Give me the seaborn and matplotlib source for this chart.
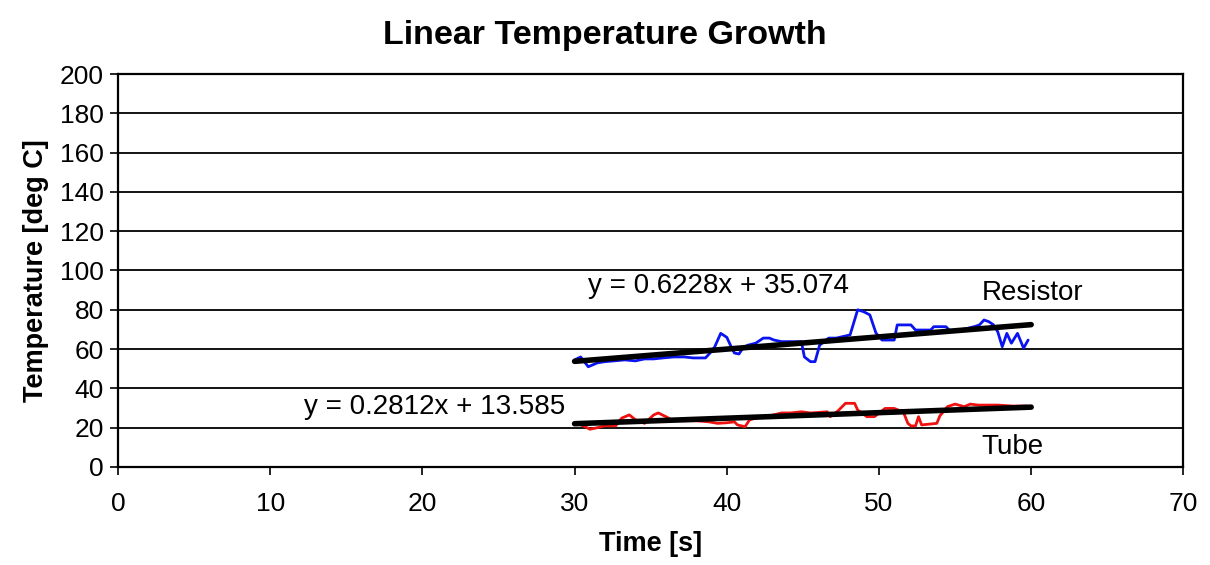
import matplotlib
matplotlib.use("Agg")
import matplotlib.pyplot as plt
import seaborn as sns
import pandas as pd

# Measured temperatures
resistor_time = [30.0, 30.4, 30.9, 31.5, 32.0, 32.6, 33.3, 34.0, 34.6, 35.2, 35.8, 36.5,
                 37.2, 37.8, 38.6, 38.9, 39.2, 39.6, 40.0, 40.3, 40.5, 40.8, 41.1, 41.4,
                 41.9, 42.4, 42.8, 43.1, 43.6, 44.2, 44.9, 45.1, 45.5, 45.8, 46.1, 46.7,
                 47.2, 47.7, 48.1, 48.6, 49.0, 49.4, 49.8, 50.2, 51.0, 51.2, 52.1, 52.4,
                 53.4, 53.6, 54.4, 54.7, 55.2, 55.8, 56.3, 56.6, 56.9, 57.2, 57.5, 57.8,
                 58.1, 58.4, 58.7, 59.1, 59.5, 59.8]
resistor_temp = [54.5, 56.0, 51.0, 53.0, 53.6, 54.0, 54.5, 54.0, 55.0, 55.0, 55.5, 56.0,
                 56.0, 55.5, 55.5, 58.0, 61.0, 68.0, 66.0, 61.0, 58.0, 57.5, 61.0, 62.0,
                 63.0, 65.6, 65.6, 64.6, 63.8, 63.8, 63.8, 56.0, 53.6, 53.6, 62.0, 65.6,
                 65.6, 66.5, 67.2, 80.0, 79.0, 77.4, 68.2, 64.6, 64.6, 72.3, 72.3, 69.7,
                 69.7, 71.4, 71.4, 69.0, 69.5, 70.5, 71.5, 72.3, 74.8, 74.0, 72.5, 68.9,
                 61.2, 68.0, 63.0, 68.0, 60.5, 64.6]

tube_time = [30.2, 30.7, 31.0, 31.5, 32.0, 32.7, 33.1, 33.6, 34.0, 34.6, 35.2, 35.5,
             36.0, 36.5, 37.2, 38.0, 38.8, 39.4, 40.0, 40.5, 40.7, 41.2, 41.5, 42.0,
             42.8, 43.6, 44.2, 44.9, 45.5, 46.1, 46.6, 46.8, 47.3, 47.8, 48.4, 48.6,
             49.2, 49.7, 50.4, 51.0, 51.6, 51.9, 52.1, 52.4, 52.6, 52.8, 53.8, 54.0,
             54.5, 55.0, 55.6, 56.0, 56.5, 57.8, 58.8, 59.7]
tube_temp = [22.0, 20.5, 19.2, 20.0, 21.0, 20.9, 24.9, 26.5, 24.0, 22.2, 26.5, 27.5,
             25.6, 23.5, 23.5, 23.5, 23.0, 22.2, 22.5, 23.0, 21.4, 20.5, 24.0, 25.0,
             26.0, 27.5, 27.5, 28.1, 27.5, 27.8, 28.1, 25.6, 28.5, 32.4, 32.4, 29.0,
             25.6, 25.6, 29.8, 29.8, 28.0, 22.2, 20.9, 20.9, 25.6, 21.4, 22.2, 26.0,
             30.7, 32.0, 30.7, 32.0, 31.5, 31.5, 31.0, 31.0]

# Linear fits
fit_range = [30, 60]
resistor_fit = (0.6228, 35.074)
tube_fit = (0.2812, 13.585)

x_ticks = [0, 10, 20, 30, 40, 50, 60, 70]
y_ticks = [0, 20, 40, 60, 80, 100, 120, 140, 160, 180, 200]

sns.set_style("white")
plt.rcParams["font.family"] = ["Liberation Sans", "DejaVu Sans"]
plt.rcParams["text.color"] = "black"
plt.rcParams["axes.labelcolor"] = "black"

fig = plt.figure(figsize=(12.1, 5.65), dpi=100)
ax = fig.add_axes([0.0975, 0.1735, 0.8805, 0.6955])

for y in y_ticks[1:]:
    ax.axhline(y, color="black", lw=1.3, zorder=1)

res_df = pd.DataFrame({"t": resistor_time, "T": resistor_temp})
tube_df = pd.DataFrame({"t": tube_time, "T": tube_temp})
sns.lineplot(data=res_df, x="t", y="T", ax=ax, color="#0a14f0", lw=2.0,
             estimator=None, sort=False, zorder=3)
sns.lineplot(data=tube_df, x="t", y="T", ax=ax, color="#f01010", lw=2.0,
             estimator=None, sort=False, zorder=3)

for slope, icpt in (resistor_fit, tube_fit):
    fy = [slope * x + icpt for x in fit_range]
    ax.plot(fit_range, fy, color="black", lw=4.0, solid_capstyle="round", zorder=4)

eq_size = 20
ax.text(30.85, 92, f"y = {resistor_fit[0]}x + {resistor_fit[1]:.3f}",
        fontsize=eq_size, va="center", ha="left")
ax.text(56.75, 88.5, "Resistor", fontsize=eq_size, va="center", ha="left")
ax.text(12.25, 30.5, f"y = {tube_fit[0]}x + {tube_fit[1]:.3f}",
        fontsize=eq_size, va="center", ha="left")
ax.text(56.75, 10.2, "Tube", fontsize=eq_size, va="center", ha="left")

ax.set_xlim(0, 70)
ax.set_ylim(0, 200)
ax.set_xticks(x_ticks)
ax.set_yticks(y_ticks)
ax.tick_params(axis="both", labelsize=19, colors="black", direction="out",
               length=6, width=1.2, left=True, bottom=True)
ax.tick_params(axis="x", pad=12)
ax.tick_params(axis="y", pad=4)
for s in ax.spines.values():
    s.set_color("black")
    s.set_linewidth(1.6)
    s.set_visible(True)

ax.set_xlabel("Time [s]", fontsize=19.5, fontweight="bold", labelpad=11)
ax.set_ylabel("Temperature [deg C]", fontsize=19.5, fontweight="bold", labelpad=8)
fig.suptitle("Linear Temperature Growth", fontsize=24.5, fontweight="bold", y=0.965)

fig.savefig("out.png", dpi=100, facecolor="white")
